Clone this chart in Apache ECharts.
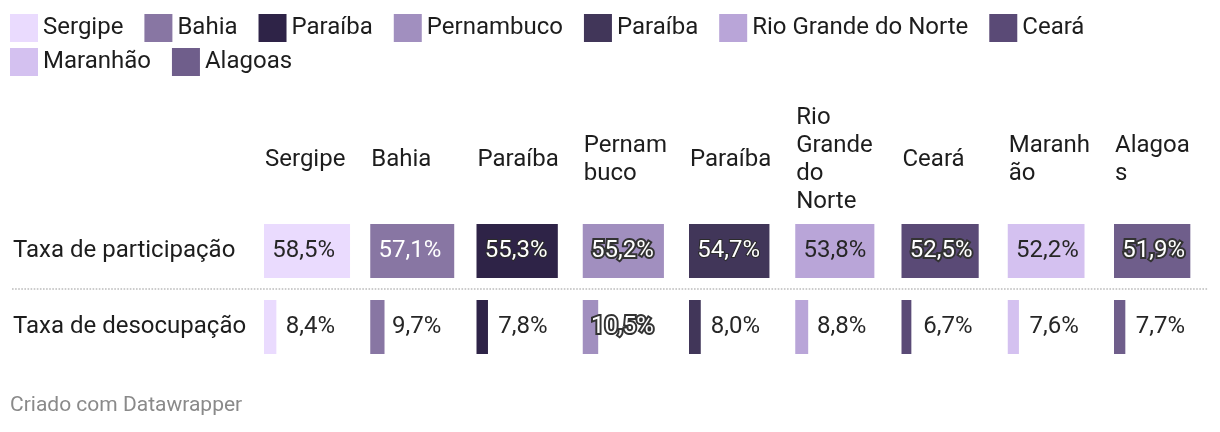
<!DOCTYPE html>
<html>
<head>
<meta charset="utf-8">
<script src="https://cdn.jsdelivr.net/npm/echarts@6/dist/echarts.min.js"></script>
<style>
  html, body { margin: 0; padding: 0; background: #ffffff; }
  #chart { width: 1220px; height: 432px; }
</style>
</head>
<body>
<div id="chart"></div>
<script>
// ---- data ----
const states = ['Sergipe', 'Bahia', 'Paraíba', 'Pernambuco', 'Paraíba', 'Rio Grande do Norte', 'Ceará', 'Maranhão', 'Alagoas'];
const headerLabels = ['Sergipe', 'Bahia', 'Paraíba', 'Pernam\nbuco', 'Paraíba', 'Rio\nGrande\ndo\nNorte', 'Ceará', 'Maranh\não', 'Alagoa\ns'];
const rowLabels = ['Taxa de participação', 'Taxa de desocupação'];
const participacao = [58.5, 57.1, 55.3, 55.2, 54.7, 53.8, 52.5, 52.2, 51.9];
const desocupacao = [8.4, 9.7, 7.8, 10.5, 8.0, 8.8, 6.7, 7.6, 7.7];
const footerText = 'Criado com Datawrapper';

// ---- styles ----
const colors = ['#eadbfe', '#8876a3', '#2e2347', '#a18fbf', '#413659', '#b9a5d8', '#5a4a76', '#d4c1f0', '#6f5e8b'];
// label look per column: [row 1, row 2]
const labelLooks = [
  ['dark', 'dark'], ['light', 'dark'], ['thin', 'dark'], ['thick', 'thick'], ['thin', 'dark'],
  ['dark', 'dark'], ['thick', 'dark'], ['dark', 'dark'], ['thick', 'dark']
];
const looks = {
  dark:  { color: '#262626' },
  light: { color: '#ffffff' },
  thin:  { color: '#ffffff', textBorderColor: '#2b2b2b', textBorderWidth: 2 },
  thick: { color: '#ffffff', textBorderColor: '#333333', textBorderWidth: 4 }
};
const FONT = 'Roboto, "Noto Sans", sans-serif';
const FS = 24;
const colLeft = i => 264 + 106.25 * i;
const key = i => states[i] + '|' + i;
const fmt = v => v.toFixed(1).replace('.', ',') + '%';

const chart = echarts.init(document.getElementById('chart'), null, { renderer: 'canvas' });

const legendCommon = {
  left: 10, padding: 0, icon: 'rect', itemWidth: 28, itemHeight: 28, itemGap: 21,
  selectedMode: false,
  formatter: name => name.split('|')[0],
  textStyle: { fontSize: FS, color: '#1d1d1d', fontFamily: FONT }
};

const option = {
  animation: false,
  textStyle: { fontFamily: FONT },
  title: {
    text: footerText, left: 10, top: 395, padding: 0,
    textStyle: { fontSize: 21, fontWeight: 'normal', color: '#8a8a8a', fontFamily: FONT }
  },
  legend: [
    Object.assign({}, legendCommon, { top: 14, data: states.slice(0, 7).map((s, i) => key(i)) }),
    Object.assign({}, legendCommon, { top: 48, data: states.slice(7).map((s, i) => key(i + 7)) })
  ],
  grid: states.map((s, i) => ({ left: colLeft(i), top: 213, width: 100, height: 152 })),
  xAxis: states.map((s, i) => ({ type: 'value', gridIndex: i, min: 0, max: 68, show: false })),
  yAxis: states.map((s, i) => ({
    type: 'category', gridIndex: i, data: rowLabels, inverse: true, show: i === 0,
    axisLine: { show: false }, axisTick: { show: false }, splitLine: { show: false },
    axisLabel: {
      show: true, align: 'left', margin: 251, fontSize: FS, color: '#1d1d1d', fontFamily: FONT,
      padding: [4, 0, 0, 0]
    }
  })),
  series: states.map((s, i) => ({
    type: 'bar', name: key(i), xAxisIndex: i, yAxisIndex: i, barWidth: 54,
    itemStyle: { color: colors[i] },
    label: {
      show: true, position: [71, '50%'], align: 'right', verticalAlign: 'middle',
      fontSize: FS, fontFamily: FONT, formatter: p => fmt(p.value)
    },
    data: [participacao[i], desocupacao[i]].map((v, r) => ({ value: v, label: Object.assign({}, looks[labelLooks[i][r]]) }))
  })),
  graphic: [
    {
      type: 'line', shape: { x1: 12, y1: 289, x2: 1208, y2: 289 },
      style: { stroke: '#cccccc', lineWidth: 2, lineDash: [1.6, 1.5] }, silent: true
    }
  ].concat(headerLabels.map((s, i) => ({
    type: 'text', x: colLeft(i) + 1, y: 160, silent: true,
    style: {
      text: s, fontSize: FS, lineHeight: 28,
      fill: '#1d1d1d', fontFamily: FONT, align: 'left', verticalAlign: 'middle'
    }
  })))
};
chart.setOption(option);
</script>
</body>
</html>
